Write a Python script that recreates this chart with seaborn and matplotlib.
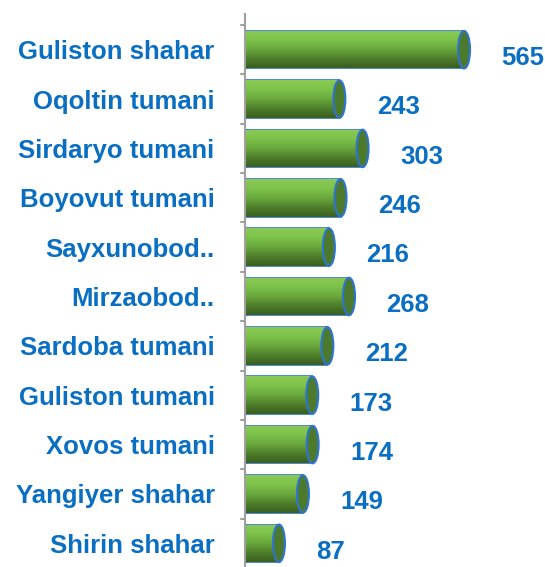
import matplotlib
matplotlib.use("Agg")
import matplotlib.pyplot as plt
import seaborn as sns
import numpy as np
import pandas as pd
from matplotlib.patches import Ellipse
from matplotlib.colors import LinearSegmentedColormap

categories = ["Guliston shahar", "Oqoltin tumani", "Sirdaryo tumani", "Boyovut tumani",
              "Sayxunobod..", "Mirzaobod..", "Sardoba tumani", "Guliston tumani",
              "Xovos tumani", "Yangiyer shahar", "Shirin shahar"]
values = [565, 243, 303, 246, 216, 268, 212, 173, 174, 149, 87]

df = pd.DataFrame({"district": categories, "count": values})

sns.set_theme(style="white")
plt.rcParams['font.family'] = ['Liberation Sans', 'DejaVu Sans']

blue = "#0A6FC2"
edge = "#2F74D0"

fig = plt.figure(figsize=(5.45, 5.67), dpi=100)
ax = fig.add_axes([0.45, 0.0, 0.54, 0.975])

sns.barplot(data=df, y="district", x="count", orient="h", color="#6DB23F",
            width=0.76, edgecolor=edge, linewidth=1.2, ax=ax, zorder=2)

ax.set_xlim(0, 760)
ax.set_ylim(len(categories) - 0.52, -0.72)

cmap = LinearSegmentedColormap.from_list("cyl", ["#8CCB55", "#7CC24A", "#6AA83C", "#4E7E2B", "#3A6020"])
grad = np.linspace(0, 1, 64).reshape(-1, 1)

fig.canvas.draw()
inv = ax.transData.inverted()
x0 = inv.transform((0, 0))[0]
x1 = inv.transform((12, 0))[0]
cap_w = x1 - x0

for p, v in zip(ax.patches, values):
    y = p.get_y()
    h = p.get_height()
    w = p.get_width()
    im = ax.imshow(grad, cmap=cmap, aspect="auto", extent=(0, w, y + h, y),
                   zorder=2.5, interpolation="bicubic")
    im.set_clip_path(p)
    ax.add_patch(Ellipse((0, y + h / 2), cap_w, h, facecolor="#78BE48",
                         edgecolor=edge, linewidth=1.2, zorder=2.4))
    ax.add_patch(Ellipse((w, y + h / 2), cap_w, h, facecolor="#4C7A2C",
                         edgecolor=edge, linewidth=1.5, zorder=3))
    ax.annotate(f"{v}", xy=(w, y + h / 2), xytext=(27, -6), textcoords="offset points",
                ha="left", va="center", color=blue, fontsize=18.5, fontweight="bold")

ax.set_xlabel("")
ax.set_ylabel("")
ax.set_xticks([])
ax.tick_params(axis="y", length=0, pad=22)
for lab in ax.get_yticklabels():
    lab.set_color(blue)
    lab.set_fontsize(18.5)
    lab.set_fontweight("bold")

for s in ["top", "right", "bottom"]:
    ax.spines[s].set_visible(False)
ax.spines["left"].set_color("#A0A0A0")
ax.spines["left"].set_linewidth(1.5)

for k in range(len(categories)):
    ax.plot([-12, 0], [k - 0.5, k - 0.5], color="#A0A0A0", lw=1.5, clip_on=False, zorder=1)

fig.savefig("out.png", dpi=100)
